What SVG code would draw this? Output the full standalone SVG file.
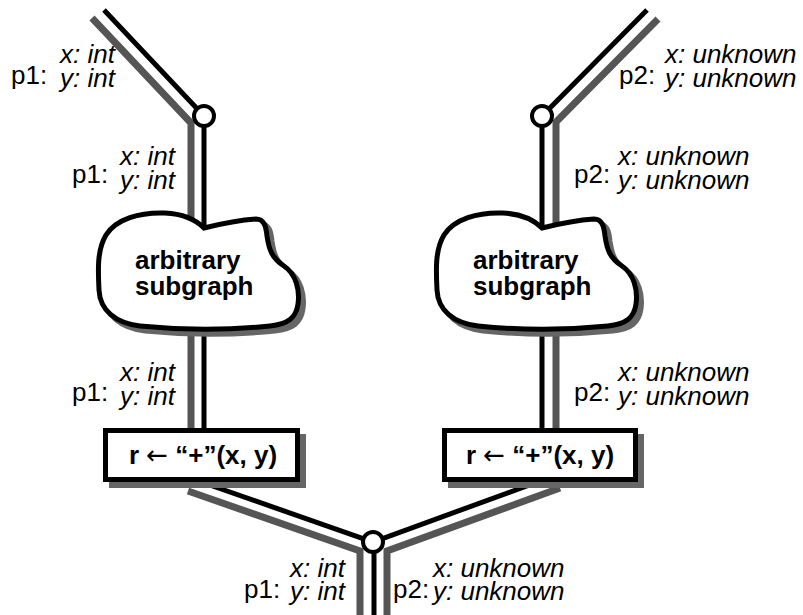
<svg xmlns="http://www.w3.org/2000/svg" width="803" height="615" viewBox="0 0 803 615">
<style>
.blk{fill:none;stroke:#000;stroke-width:5;stroke-linejoin:miter}
.gry{fill:none;stroke:#555;stroke-width:7;stroke-linejoin:miter}
.shadow{fill:#666;stroke:#666;stroke-width:5}
.cloud{fill:#fff;stroke:#000;stroke-width:5}
.box{fill:#fff;stroke:#000;stroke-width:5}
.junc{fill:#fff;stroke:#000;stroke-width:4}
.nt{font-family:"Liberation Sans",Arial,sans-serif;font-weight:bold;font-size:26px;fill:#000}
.arr{font-family:"DejaVu Sans",sans-serif;font-weight:normal}
.p{font-family:"Liberation Sans",Arial,sans-serif;font-size:26px;fill:#000}
.t{font-family:"Liberation Sans",Arial,sans-serif;font-style:italic;font-size:26px;fill:#000}
</style>
<defs>
<path id="cloudShape" d="M204,228 C220,224 240,220 256,219 C264,219 266,226 267,236 C269,250 272,258 284,266 C296,274 300,290 298,304 C296,318 288,324 270,326 C230,330 180,330 140,326 C115,323 100,310 99,290 C98,270 97,250 106,235 C116,219 140,212 165,213 C185,214 196,220 204,228 Z"/>
</defs>
<rect width="803" height="615" fill="#fff"/>
<g id="connectors">
<polyline class="gry" points="92,18 191,123 191,432"/>
<polyline class="blk" points="104,10 204,116 204,432"/>
<polyline class="gry" points="658,19 556,122 556,432"/>
<polyline class="blk" points="647,10 542,116 542,432"/>
<polyline class="gry" points="188,491 360,551 360,615"/>
<polyline class="gry" points="560,488 387,551 387,615"/>
<polyline class="blk" points="204,483 373,542 535,483"/>
<line class="blk" x1="374" y1="542" x2="374" y2="615"/>
</g>
<g id="cloud-left">
<use href="#cloudShape" class="shadow" transform="translate(5,5)"/>
<use href="#cloudShape" class="cloud"/>
<text class="nt" x="135" y="269">arbitrary</text>
<text class="nt" x="135" y="295">subgraph</text>
</g>
<g id="cloud-right">
<use href="#cloudShape" class="shadow" transform="translate(343,5)"/>
<use href="#cloudShape" class="cloud" transform="translate(338,0)"/>
<text class="nt" x="473" y="269">arbitrary</text>
<text class="nt" x="473" y="295">subgraph</text>
</g>
<g id="box-left">
<rect class="shadow" x="111.5" y="436.5" width="192" height="49"/>
<rect class="box" x="105.5" y="430.5" width="192" height="49"/>
<text class="nt" x="203" y="464" text-anchor="middle">r <tspan class="arr">←</tspan> “+”(x, y)</text>
</g>
<g id="box-right">
<rect class="shadow" x="450.5" y="436.5" width="191" height="49"/>
<rect class="box" x="444.5" y="430.5" width="191" height="49"/>
<text class="nt" x="540" y="464" text-anchor="middle">r <tspan class="arr">←</tspan> “+”(x, y)</text>
</g>
<g id="junction-left"><circle class="junc" cx="204" cy="116" r="10"/></g>
<g id="junction-right"><circle class="junc" cx="542" cy="116" r="10"/></g>
<g id="junction-bottom"><circle class="junc" cx="373" cy="542" r="10"/></g>
<g id="label-p1-top">
<text class="p" x="11" y="84">p1:</text>
<text class="t" x="60" y="63">x: int</text>
<text class="t" x="60" y="87">y: int</text>
</g>
<g id="label-p1-mid">
<text class="p" x="72" y="183">p1:</text>
<text class="t" x="120" y="165">x: int</text>
<text class="t" x="120" y="189">y: int</text>
</g>
<g id="label-p1-low">
<text class="p" x="72" y="401">p1:</text>
<text class="t" x="120" y="381">x: int</text>
<text class="t" x="120" y="405">y: int</text>
</g>
<g id="label-p2-top">
<text class="p" x="619" y="84">p2:</text>
<text class="t" x="665" y="63">x: unknown</text>
<text class="t" x="665" y="87">y: unknown</text>
</g>
<g id="label-p2-mid">
<text class="p" x="574" y="183">p2:</text>
<text class="t" x="618" y="165">x: unknown</text>
<text class="t" x="618" y="189">y: unknown</text>
</g>
<g id="label-p2-low">
<text class="p" x="574" y="401">p2:</text>
<text class="t" x="618" y="381">x: unknown</text>
<text class="t" x="618" y="405">y: unknown</text>
</g>
<g id="label-p1-out">
<text class="p" x="244" y="598">p1:</text>
<text class="t" x="290" y="577">x: int</text>
<text class="t" x="290" y="600">y: int</text>
</g>
<g id="label-p2-out">
<text class="p" x="393" y="598">p2:</text>
<text class="t" x="433" y="577">x: unknown</text>
<text class="t" x="433" y="600">y: unknown</text>
</g>
</svg>
